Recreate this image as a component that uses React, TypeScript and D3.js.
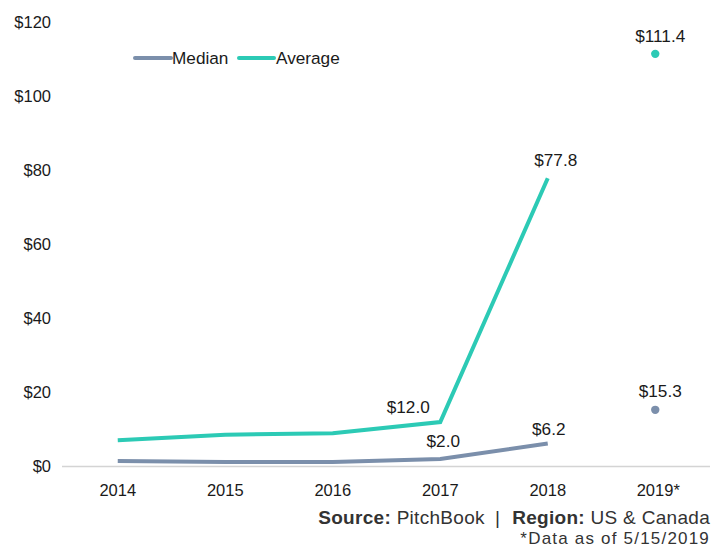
import React from "react";
import * as d3 from "d3";

const years = ["2014", "2015", "2016", "2017", "2018", "2019*"];
const medianLine = [1.5, 1.2, 1.2, 2.0, 6.2];
const averageLine = [7.1, 8.6, 9.0, 12.0, 77.8];
const medianPartial = 15.3;
const averagePartial = 111.4;
const yTicks = [0, 20, 40, 60, 80, 100, 120];
// which points get a value label
const medianLabelled = [3, 4];
const averageLabelled = [3, 4];

const MEDIAN_COLOR = "#7b8fab";
const AVERAGE_COLOR = "#2ccab5";
const TEXT = "#1a1a1a";
const FONT = "'Liberation Sans', Arial, Helvetica, sans-serif";

const App = (): React.JSX.Element => {
  const width = 721;
  const height = 548;
  const marginLeft = 64;
  const marginRight = 12;
  const marginTop = 22;
  const baseY = 466.5;

  const x = d3.scaleBand<string>(years, [marginLeft, width - marginRight]);
  const cx = (i: number) => (x(years[i]) as number) + x.bandwidth() / 2;
  const y = d3.scaleLinear([0, 120], [baseY, marginTop]);

  const line = d3
    .line<number>()
    .x((_d, i) => cx(i))
    .y((d) => y(d));

  const last = years.length - 1;

  return (
    <svg width={width} height={height} style={{ position: "absolute", left: 0, top: 0 }} fontFamily={FONT}>
      {/* y tick labels */}
      <g fontSize={16.5} fill={TEXT} textAnchor="end">
        {yTicks.map((t) => (
          <text key={t} x={51} y={y(t)} dy="0.35em">
            ${t}
          </text>
        ))}
      </g>
      {/* baseline */}
      <line x1={62} x2={710} y1={baseY} y2={baseY} stroke="#d4d4d4" strokeWidth={1.5} />
      {/* x labels */}
      <g fontSize={16.5} fill={TEXT} textAnchor="middle">
        {years.map((yr, i) => (
          <text key={yr} x={cx(i) + (yr.endsWith("*") ? 3 : 0)} y={496}>
            {yr}
          </text>
        ))}
      </g>
      {/* lines */}
      <path d={line(averageLine) as string} fill="none" stroke={AVERAGE_COLOR} strokeWidth={4} />
      <path d={line(medianLine) as string} fill="none" stroke={MEDIAN_COLOR} strokeWidth={4} />
      <circle cx={cx(last)} cy={y(averagePartial)} r={4.2} fill={AVERAGE_COLOR} />
      <circle cx={cx(last)} cy={y(medianPartial)} r={4.2} fill={MEDIAN_COLOR} />
      {/* value labels */}
      <g fontSize={17.2} fill={TEXT} textAnchor="middle">
        {averageLabelled.map((i) => (
          <text key={"a" + i} x={cx(i) + (i === 3 ? -32 : 8)} y={y(averageLine[i]) - (i === 3 ? 9 : 12)}>
            ${averageLine[i].toFixed(1)}
          </text>
        ))}
        {medianLabelled.map((i) => (
          <text key={"m" + i} x={cx(i) + (i === 3 ? 3 : 1)} y={y(medianLine[i]) - (i === 3 ? 12 : 9)}>
            ${medianLine[i].toFixed(1)}
          </text>
        ))}
        <text x={cx(last) + 5} y={y(averagePartial) - 12}>
          ${averagePartial.toFixed(1)}
        </text>
        <text x={cx(last) + 5} y={y(medianPartial) - 13}>
          ${medianPartial.toFixed(1)}
        </text>
      </g>
      {/* legend */}
      <g fontSize={17.2} fill={TEXT}>
        <line x1={135} x2={171} y1={58} y2={58} stroke={MEDIAN_COLOR} strokeWidth={4} strokeLinecap="round" />
        <text x={172} y={58} dy="0.35em">Median</text>
        <line x1={239} x2={274} y1={58} y2={58} stroke={AVERAGE_COLOR} strokeWidth={4} strokeLinecap="round" />
        <text x={276} y={58} dy="0.35em">Average</text>
      </g>
      {/* source */}
      <g fill="#333" textAnchor="end">
        <text x={710} y={524} fontSize={19} letterSpacing={0.3}>
          <tspan fontWeight="bold">Source:</tspan> PitchBook
          <tspan dx={10}>|</tspan>
          <tspan dx={12} fontWeight="bold">Region:</tspan> US &amp; Canada
        </text>
        <text x={710} y={544} fontSize={17} letterSpacing={1.2}>*Data as of 5/15/2019</text>
      </g>
    </svg>
  );
};

export default App;
